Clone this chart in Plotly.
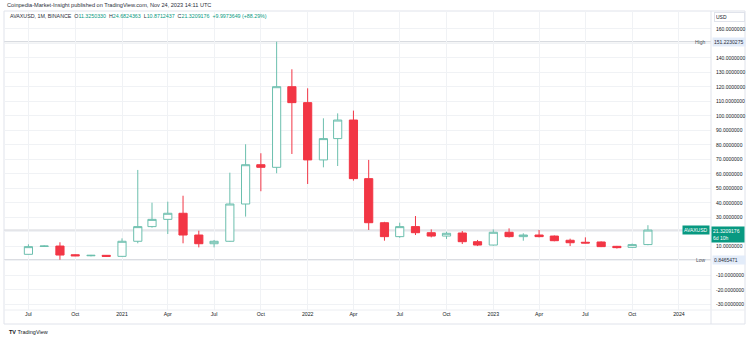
import plotly.graph_objects as go

# ---------------- data ----------------
months = [
    "2020-07-01", "2020-08-01", "2020-09-01", "2020-10-01", "2020-11-01", "2020-12-01",
    "2021-01-01", "2021-02-01", "2021-03-01", "2021-04-01", "2021-05-01", "2021-06-01",
    "2021-07-01", "2021-08-01", "2021-09-01", "2021-10-01", "2021-11-01", "2021-12-01",
    "2022-01-01", "2022-02-01", "2022-03-01", "2022-04-01", "2022-05-01", "2022-06-01",
    "2022-07-01", "2022-08-01", "2022-09-01", "2022-10-01", "2022-11-01", "2022-12-01",
    "2023-01-01", "2023-02-01", "2023-03-01", "2023-04-01", "2023-05-01", "2023-06-01",
    "2023-07-01", "2023-08-01", "2023-09-01", "2023-10-01", "2023-11-01",
]
opens = [4.6, 10.0, 10.3, 4.3, 3.6, 3.9,
         3.2, 13.6, 23.7, 28.7, 32.9, 17.9,
         11.9, 13.6, 39.3, 66.4, 64.6, 120.2,
         109.2, 69.7, 84.4, 97.2, 56.8, 26.4,
         16.8, 23.7, 19.5, 17.2, 19.3, 13.3,
         11.0, 19.8, 16.8, 17.9, 17.2, 14.3,
         12.9, 13.1, 10.1, 9.4, 11.3250330]
highs = [11.5, 10.8, 12.9, 4.6, 4.2, 4.1,
         15.6, 62.8, 40.2, 40.9, 45.0, 20.9,
         14.5, 60.9, 80.5, 74.3, 151.2230275, 132.2,
         119.1, 98.4, 101.8, 103.7, 69.7, 27.0,
         26.4, 31.0, 21.8, 20.2, 20.7, 14.5,
         21.8, 22.5, 19.1, 21.4, 17.6, 15.4,
         16.3, 13.5, 10.4, 12.0, 24.6824363]
lows = [4.5, 9.7, 0.8465471, 3.3, 3.2, 2.8,
        2.9, 12.2, 23.0, 18.6, 12.2, 9.4,
        9.4, 13.3, 30.6, 48.1, 60.5, 73.8,
        53.1, 64.6, 65.5, 55.4, 21.4, 14.0,
        16.0, 17.9, 16.3, 15.2, 11.7, 10.3,
        10.6, 16.2, 14.0, 16.3, 13.6, 10.3,
        12.1, 9.6, 8.6, 9.0, 10.8712437]
closes = [9.9, 10.3, 4.1, 3.6, 3.9, 3.2,
          13.6, 23.7, 28.7, 32.9, 17.9, 11.9,
          13.6, 39.3, 66.4, 64.6, 120.2, 109.2,
          69.7, 84.4, 97.2, 56.8, 26.4, 16.8,
          23.7, 19.5, 17.2, 19.1, 13.3, 11.0,
          19.8, 16.8, 17.9, 16.8, 14.0, 12.6,
          12.4, 9.9, 9.2, 11.3, 21.3209176]

tick_dates = ["2020-07-01", "2020-10-01", "2021-01-01", "2021-04-01", "2021-07-01",
              "2021-10-01", "2022-01-01", "2022-04-01", "2022-07-01", "2022-10-01",
              "2023-01-01", "2023-04-01", "2023-07-01", "2023-10-01", "2024-01-01"]
tick_text = ["Jul", "Oct", "2021", "Apr", "Jul", "Oct", "2022", "Apr", "Jul", "Oct",
             "2023", "Apr", "Jul", "Oct", "2024"]
y_ticks = list(range(-30, 161, 10))
y_hidden = [150, 20, 0]   # labels covered by the High / last / Low tags
y_tick_text = ["" if v in y_hidden else f"{v:.7f}" for v in y_ticks]

high_val = 151.2230275
low_val = 0.8465471
last_val = 21.3209176

header_text = "Coinpedia-Market-Insight published on TradingView.com, Nov 24, 2023 14:11 UTC"
symbol_text = "AVAXUSD, 1M, BINANCE"
ohlc_labels = ["O", "H", "L", "C"]
ohlc_values = ["11.3250330", "24.6824363", "10.8712437", "21.3209176"]
change_text = "+9.9973649 (+88.29%)"

# ---------------- layout geometry ----------------
W, Hh = 750, 339
ML, MR, MT, MB = 4, 39, 11, 29
PW = W - ML - MR
PH = Hh - MT - MB


def px(xp):
    return (xp - ML) / PW


def py(yp):
    return (Hh - MB - yp) / PH


UP = "#089981"
UP_LINE = "#6cbfae"
DOWN = "#f23645"
TXT = "#131722"
FONT = "Liberation Sans"

fig = go.Figure()
fig.add_trace(go.Candlestick(
    x=months, open=opens, high=highs, low=lows, close=closes,
    increasing=dict(line=dict(color=UP_LINE, width=1), fillcolor="#ffffff"),
    decreasing=dict(line=dict(color=DOWN, width=1), fillcolor=DOWN),
    whiskerwidth=0, showlegend=False, hoverinfo="skip",
))

shapes = []
for val in (high_val, last_val, low_val):
    shapes.append(dict(type="line", xref="paper", yref="y", x0=0, x1=1, y0=val, y1=val,
                       line=dict(color="#cfd2d8", width=1), layer="below"))
# pane border
shapes.append(dict(type="rect", xref="paper", yref="paper",
                   x0=px(4), x1=px(745), y0=py(324), y1=py(11),
                   line=dict(color="#e0e3eb", width=1), layer="below"))
# axis separators
shapes.append(dict(type="line", xref="paper", yref="paper", x0=1, x1=1, y0=py(324), y1=py(11),
                   line=dict(color="#e0e3eb", width=1)))
shapes.append(dict(type="line", xref="paper", yref="paper", x0=0, x1=px(745), y0=0, y1=0,
                   line=dict(color="#eceef2", width=1)))

ann = []
ann.append(dict(text=header_text, xref="paper", yref="paper", x=px(5), y=py(5.5),
                xanchor="left", yanchor="middle", showarrow=False,
                font=dict(size=5.6, color="#2a2e39", family=FONT)))
ohlc_html = "  ".join(
    f"{l}<span style='color:{UP}'>{v}</span>" for l, v in zip(ohlc_labels, ohlc_values))
ann.append(dict(text=f"{symbol_text}  {ohlc_html}  <span style='color:{UP}'>{change_text}</span>",
                xref="paper", yref="paper", x=px(8), y=py(16.5),
                xanchor="left", yanchor="middle", showarrow=False,
                font=dict(size=5.3, color="#2a2e39", family=FONT)))
ann.append(dict(text="USD", xref="paper", yref="paper", x=px(714), y=py(17.5),
                xanchor="left", yanchor="middle", showarrow=False,
                font=dict(size=5, color=TXT, family=FONT),
                bordercolor="#e0e3eb", borderwidth=1, borderpad=1, bgcolor="#ffffff",
                width=27, align="left"))
# high / low / last tags
for lab, val, txt in (("High", high_val, "151.2230275"), ("Low", low_val, "0.8465471")):
    ann.append(dict(text=lab, xref="paper", yref="y", x=px(708), y=val,
                    xanchor="right", yanchor="middle", showarrow=False,
                    font=dict(size=5, color="#50535e", family=FONT)))
    ann.append(dict(text=txt, xref="paper", yref="y", x=px(712), y=val,
                    xanchor="left", yanchor="middle", showarrow=False,
                    font=dict(size=5, color="#2a2e39", family=FONT),
                    bgcolor="#e3ecf9", borderpad=1, width=30, align="left"))
ann.append(dict(text="AVAXUSD", xref="paper", yref="y", x=px(710), y=last_val,
                xanchor="right", yanchor="middle", showarrow=False,
                font=dict(size=5, color="#ffffff", family=FONT),
                bgcolor=UP, borderpad=1))
ann.append(dict(text="21.3209176<br>6d 10h", xref="paper", yref="y", x=px(711), y=last_val,
                xanchor="left", yanchor="top", yshift=4, showarrow=False,
                font=dict(size=5, color="#ffffff", family=FONT),
                bgcolor=UP, borderpad=1, width=30, align="left"))
ann.append(dict(text="<b>TV</b> TradingView", xref="paper", yref="paper", x=px(7), y=py(332),
                xanchor="left", yanchor="middle", showarrow=False,
                font=dict(size=5.5, color="#131722", family=FONT)))

fig.update_layout(
    width=W, height=Hh,
    margin=dict(l=ML, r=MR, t=MT, b=MB),
    paper_bgcolor="#ffffff", plot_bgcolor="#ffffff",
    boxgap=0.18,
    xaxis=dict(type="date", range=["2020-05-14", "2024-03-04"],
               tickvals=tick_dates, ticktext=tick_text,
               showgrid=True, gridcolor="#f0f2f5", gridwidth=1,
               zeroline=False, showline=False, ticks="",
               tickfont=dict(size=5.2, color=TXT, family=FONT),
               rangeslider=dict(visible=False), fixedrange=True),
    yaxis=dict(side="right", range=[-33.8, 172.4], tickvals=y_ticks, ticktext=y_tick_text,
               showgrid=True, gridcolor="#f0f2f5", gridwidth=1,
               zeroline=False, showline=False, ticks="", ticklabelstandoff=4,
               tickfont=dict(size=5, color=TXT, family=FONT)),
    shapes=shapes, annotations=ann,
)

fig.write_html("out.html")
